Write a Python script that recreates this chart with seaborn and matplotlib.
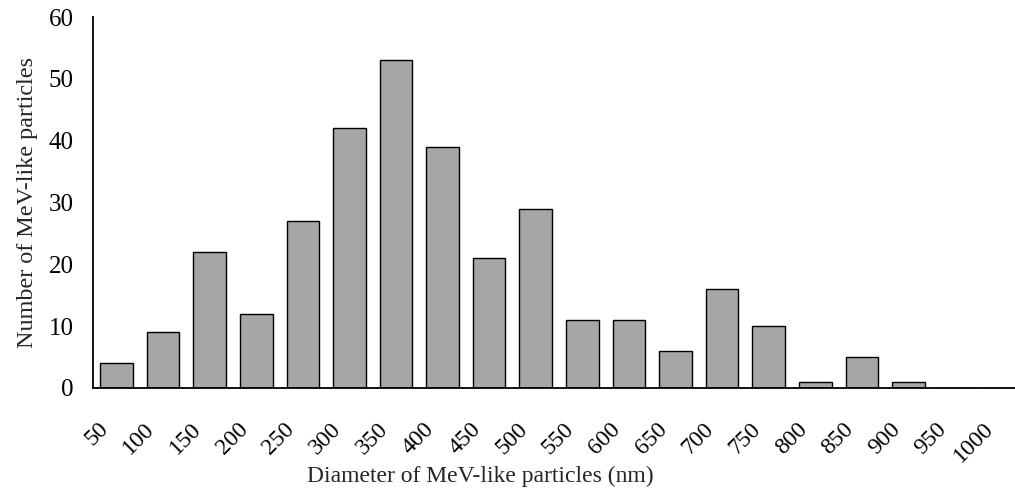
import matplotlib
matplotlib.use("Agg")
import matplotlib.pyplot as plt
import matplotlib.transforms as mtransforms
import seaborn as sns
import pandas as pd

categories = ["50", "100", "150", "200", "250", "300", "350", "400", "450", "500",
              "550", "600", "650", "700", "750", "800", "850", "900", "950", "1000"]
counts = [4, 9, 22, 12, 27, 42, 53, 39, 21, 29, 11, 11, 6, 16, 10, 1, 5, 1, 0, 0]

sns.set_style("white")
plt.rcParams['font.family'] = ['Liberation Serif', 'DejaVu Serif']

df = pd.DataFrame({"diameter": categories, "count": counts})

fig = plt.figure(figsize=(10.15, 4.91), dpi=100)
ax = fig.add_axes([0.0918, 0.21, 0.918, 0.755])

sns.barplot(data=df, x="diameter", y="count", order=categories, color="#A6A6A6",
            saturation=1, edgecolor="black", linewidth=1.0, width=0.7, ax=ax)

ax.set_ylim(0, 60)
ax.set_yticks(range(0, 61, 10))
ax.set_xlim(-0.5, len(categories) - 0.5)
for s in ["top", "right"]:
    ax.spines[s].set_visible(False)
for s in ["left", "bottom"]:
    ax.spines[s].set_color("black")
    ax.spines[s].set_linewidth(1.3)
ax.tick_params(axis="y", length=0, labelsize=18, colors="black", pad=14)
ax.tick_params(axis="x", length=0, labelsize=17, colors="black", pad=22)
offset = mtransforms.ScaledTranslation(-0.19, 0, fig.dpi_scale_trans)
for lbl in ax.get_xticklabels():
    lbl.set_rotation(45)
    lbl.set_ha("right")
    lbl.set_rotation_mode("anchor")
    lbl.set_transform(lbl.get_transform() + offset)

ax.set_xlabel("Diameter of MeV-like particles (nm)", fontsize=17)
ax.xaxis.set_label_coords(0.415, -0.21)
ax.set_ylabel("Number of MeV-like particles", fontsize=17.4, labelpad=8)
ax.grid(False)

fig.savefig("out.png", dpi=100)
